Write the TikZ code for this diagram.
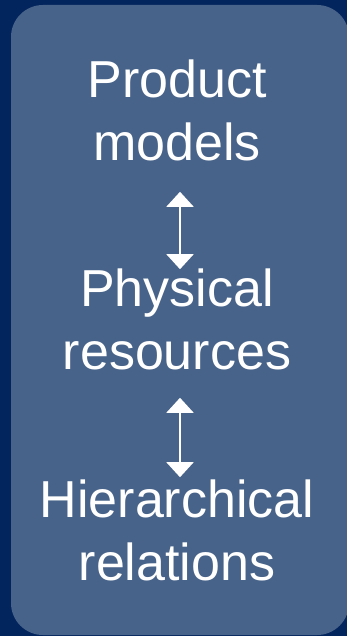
\documentclass[tikz,border=0pt]{standalone}
\usepackage{fontspec}
\setmainfont{Liberation Sans}
\usetikzlibrary{arrows.meta,positioning}
\definecolor{navy}{RGB}{3,37,94}
\definecolor{steel}{RGB}{72,99,137}
\tikzset{%
  >={Triangle[width=27pt,length=15pt]},
  % Specifications for style of nodes:
       panel/.style = {rectangle, fill=steel, rounded corners=32pt,
                       minimum width=338pt, minimum height=630pt},
        word/.style = {align=center, text=white, inner sep=0pt,
                       font=\fontsize{52}{63}\selectfont},
        link/.style = {<->, draw=white, line width=2pt},
}

\begin{document}
\begin{tikzpicture}[x=1pt, y=-1pt, node distance=210pt]
  % background
  \fill[navy] (0,0) rectangle (347,636);
  \useasboundingbox (0,0) rectangle (347,636);
  % Specification of nodes (position, etc.)
  \node (panel) [panel] at (180,320) {};
  \node (prod) [word] at (177,110) {Product\\models};
  \node (phys) [word, below of=prod, yshift=1pt] {Physical\\resources};
  \node (hier) [word, below of=phys, yshift=-1pt] {Hierarchical\\relations};
  % Specification of lines between nodes specified above
  \draw[link, shorten <=31pt, shorten >=-1pt] ([xshift=3pt]prod.south) -- ([xshift=3pt]phys.north);
  \draw[link, shorten <=28pt, shorten >=2pt] ([xshift=3pt]phys.south) -- ([xshift=3pt]hier.north);
\end{tikzpicture}
\end{document}
